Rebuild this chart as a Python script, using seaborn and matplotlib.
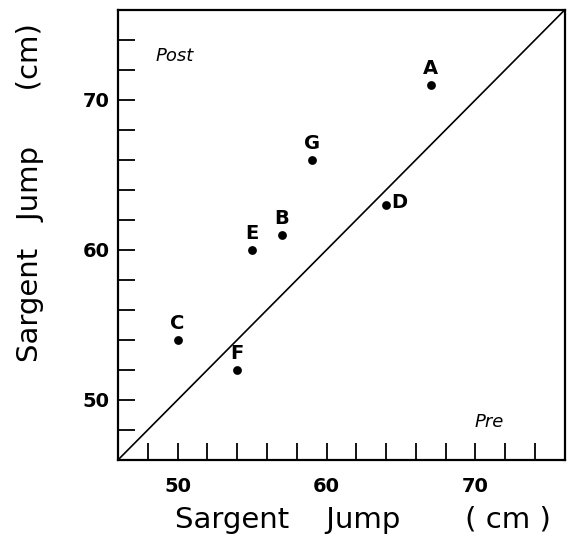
import matplotlib
matplotlib.use("Agg")
import matplotlib.pyplot as plt
import seaborn as sns
import pandas as pd

subjects = ["A", "B", "C", "D", "E", "F", "G"]
pre = [67, 57, 50, 64, 55, 54, 59]
post = [71, 61, 54, 63, 60, 52, 66]
major_ticks = [50, 60, 70]
minor_ticks = [48, 52, 54, 56, 58, 62, 64, 66, 68, 72, 74]

df = pd.DataFrame({"subject": subjects, "pre": pre, "post": post})

sns.set_theme(style="ticks")
plt.rcParams['font.family'] = ['DejaVu Sans']
plt.rcParams['text.color'] = 'black'
plt.rcParams['xtick.color'] = 'black'
plt.rcParams['ytick.color'] = 'black'
plt.rcParams['xtick.labelcolor'] = 'black'
plt.rcParams['ytick.labelcolor'] = 'black'

fig = plt.figure(figsize=(5.7, 5.43), dpi=100)
ax = fig.add_axes([0.207, 0.153, 0.784, 0.829])

sns.scatterplot(data=df, x="pre", y="post", ax=ax, color="black", s=40,
                edgecolor="black", linewidth=0, zorder=3)
ax.axline((46, 46), slope=1, color="black", lw=1.2, zorder=2)

ax.set_xlim(46, 76)
ax.set_ylim(46, 76)

for s, x, y in zip(subjects, pre, post):
    if s == "D":
        ax.annotate(s, (x, y), xytext=(4, 2), textcoords="offset points",
                    ha="left", va="center", fontsize=14, fontweight="bold",
                    color="black")
    else:
        ax.annotate(s, (x, y), xytext=(0, 5), textcoords="offset points",
                    ha="center", va="bottom", fontsize=14, fontweight="bold",
                    color="black")

ax.text(49.8, 72.9, "Post", fontsize=13, fontstyle="italic", ha="center", va="center")
ax.text(70.9, 48.5, "Pre", fontsize=13, fontstyle="italic", ha="center", va="center")

ax.set_xticks(major_ticks)
ax.set_yticks(major_ticks)
ax.set_xticks(minor_ticks, minor=True)
ax.set_yticks(minor_ticks, minor=True)
ax.set_xticklabels([str(t) for t in major_ticks], fontsize=14, fontweight="bold")
ax.set_yticklabels([str(t) for t in major_ticks], fontsize=14, fontweight="bold")
ax.tick_params(which="both", direction="in", length=12, width=1.3, color="black",
               top=False, right=False)
ax.tick_params(axis="x", which="major", pad=12)
ax.tick_params(axis="y", which="major", pad=6)
for sp in ax.spines.values():
    sp.set_linewidth(1.6)
    sp.set_color("black")
ax.set_xlabel("")
ax.set_ylabel("")

fig.text(0.637, 0.042, "Sargent    Jump       ( cm )", fontsize=21, ha="center", va="center")
fig.text(0.053, 0.646, "Sargent   Jump      (cm)", fontsize=21, ha="center", va="center",
         rotation=90)

fig.savefig("out.png", dpi=100, facecolor="white")
